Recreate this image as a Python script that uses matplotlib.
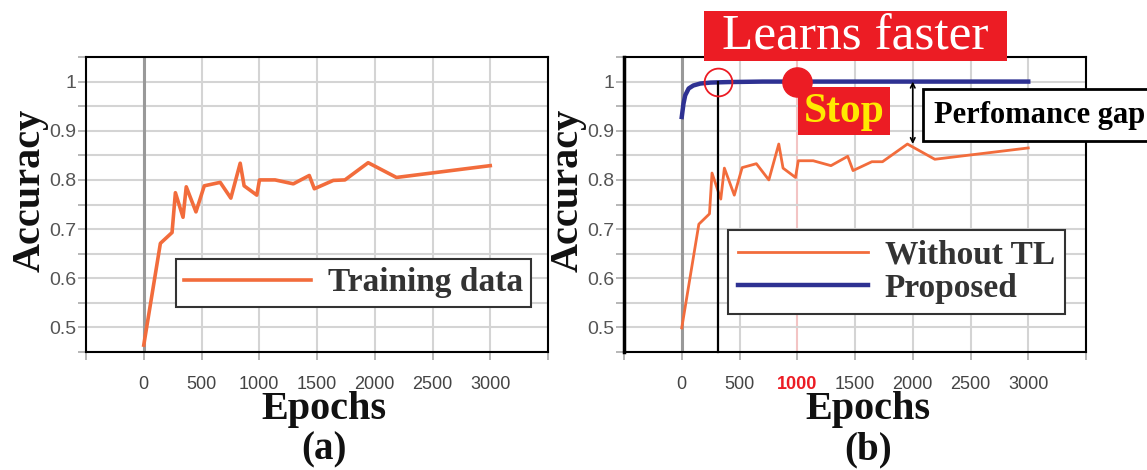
import numpy as np
import matplotlib
matplotlib.use("Agg")
import matplotlib.pyplot as plt
from matplotlib.patches import Rectangle

# values
epochs_a = [0, 144, 245, 274, 340, 368, 452, 524, 662, 754, 835, 869, 979, 1002,
            1137, 1295, 1433, 1477, 1641, 1742, 1943, 2188, 3000]
acc_train = [0.464, 0.671, 0.693, 0.774, 0.724, 0.786, 0.735, 0.788, 0.795, 0.763,
             0.834, 0.788, 0.769, 0.800, 0.800, 0.792, 0.809, 0.782, 0.799, 0.800,
             0.835, 0.805, 0.829]

epochs_b = [0, 148, 240, 262, 338, 369, 455, 523, 646, 754, 840, 877, 985, 1009,
            1138, 1292, 1437, 1483, 1646, 1738, 1954, 2191, 3000]
acc_without_tl = [0.499, 0.710, 0.731, 0.814, 0.761, 0.824, 0.769, 0.825, 0.833, 0.800,
                  0.873, 0.824, 0.805, 0.839, 0.839, 0.829, 0.848, 0.819, 0.837, 0.837,
                  0.873, 0.842, 0.865]

epochs_prop = [0, 15, 30, 60, 100, 160, 250, 400, 700, 1000, 3000]
acc_proposed = [0.928, 0.955, 0.972, 0.986, 0.992, 0.996, 0.998, 0.999, 1.0, 1.0, 1.0]

x_ticks = [-500, 0, 500, 1000, 1500, 2000, 2500, 3000, 3500]
x_labels = ["", "0", "500", "1000", "1500", "2000", "2500", "3000", ""]
y_ticks = [0.45, 0.5, 0.55, 0.6, 0.65, 0.7, 0.75, 0.8, 0.85, 0.9, 0.95, 1.0, 1.05]
y_labels = ["", "0.5", "", "0.6", "", "0.7", "", "0.8", "", "0.9", "", "1", ""]

stop_epoch = 1000
fast_epoch = 310
gap_epoch = 2000
gap_low = 0.873

ORANGE = "#F26C3C"
NAVY = "#2E3192"
RED = "#EC1C24"
W, H = 1147, 470

serif = "Liberation Serif"
sans = "Liberation Sans"


def fx(x):
    return x / W


def fy(y):
    return 1 - y / H


def style(ax):
    ax.set_xlim(-500, 3500)
    ax.set_ylim(0.45, 1.05)
    ax.set_xticks(x_ticks)
    ax.set_xticklabels(x_labels, fontfamily=sans, fontsize=13, color="#444")
    ax.set_yticks(y_ticks)
    ax.set_yticklabels(y_labels, fontfamily=sans, fontsize=14, color="#555")
    ax.tick_params(axis="both", length=6, width=1.2, color="#aaa")
    ax.tick_params(axis="x", pad=11)
    ax.tick_params(axis="y", pad=1)
    ax.grid(True, color="#d4d4d4", lw=1.5, zorder=0)
    ax.axvline(0, color="#999", lw=2.2, zorder=1)
    for s in ax.spines.values():
        s.set_color("black")
        s.set_linewidth(1.5)
    ax.set_axisbelow(True)


fig = plt.figure(figsize=(W / 100, H / 100), dpi=100)
ax_a = fig.add_axes([fx(86), fy(352), 462 / W, 295 / H])
ax_b = fig.add_axes([fx(624), fy(352), 462 / W, 295 / H])
style(ax_a)
style(ax_b)
ax_b.spines["left"].set_linewidth(2.5)
ax_b.get_xticklabels()[3].set_color(RED)
ax_b.get_xticklabels()[3].set_fontweight("bold")
ax_b.get_xgridlines()[3].set_color("#f3c4c4")

# (a)
ax_a.plot(epochs_a, acc_train, color=ORANGE, lw=2.6, label="Training data", zorder=3)
leg = ax_a.legend(loc="upper left", bbox_to_anchor=(fx(176), fy(259)),
                  bbox_transform=fig.transFigure, borderaxespad=0,
                  prop=dict(family=serif, weight="bold", size=24), labelcolor="#333",
                  handlelength=3.8, fancybox=False, framealpha=1,
                  borderpad=0.25, handletextpad=0.5)
leg.get_frame().set_edgecolor("#333")
leg.get_frame().set_linewidth(1.5)

# (b)
ax_b.plot(epochs_b, acc_without_tl, color=ORANGE, lw=2.0, label="Without TL", zorder=3)
ax_b.plot(epochs_prop, acc_proposed, color=NAVY, lw=3.2, label="Proposed", zorder=3)
ax_b.plot([fast_epoch, fast_epoch], [1.0, 0.45], color="black", lw=1.6, zorder=4, clip_on=False)
ax_b.plot([fast_epoch], [1.0], marker="o", ms=20, mfc="none", mec=RED, mew=1.3, zorder=5)
ax_b.plot([stop_epoch], [1.0], marker="o", ms=21, color=RED, zorder=5, clip_on=False)
ax_b.annotate("", xy=(gap_epoch, gap_low), xytext=(gap_epoch, 1.0),
              arrowprops=dict(arrowstyle="<->", color="black", lw=1.2,
                              shrinkA=0, shrinkB=0, mutation_scale=8))
leg = ax_b.legend(loc="upper left", bbox_to_anchor=(fx(728), fy(230)),
                  bbox_transform=fig.transFigure, borderaxespad=0,
                  prop=dict(family=serif, weight="bold", size=24), labelcolor="#333",
                  handlelength=3.9, fancybox=False, framealpha=1,
                  borderpad=0.3, handletextpad=0.5, labelspacing=0.05)
leg.get_frame().set_edgecolor("#333")
leg.get_frame().set_linewidth(1.5)

# boxes with text
fig.add_artist(Rectangle((fx(704), fy(61)), 303 / W, 50 / H, transform=fig.transFigure,
                         color=RED, lw=0))
fig.text(fx(855), fy(50), "Learns faster", color="white", fontfamily=serif,
         fontsize=37, ha="center", va="baseline")
fig.add_artist(Rectangle((fx(798), fy(135)), 92 / W, 48 / H, transform=fig.transFigure,
                         color=RED, lw=0))
fig.text(fx(844), fy(122), "Stop", color="#FFEA00", fontfamily=serif, fontweight="bold",
         fontsize=30, ha="center", va="baseline")
fig.add_artist(Rectangle((fx(923), fy(141)), 240 / W, 52 / H, transform=fig.transFigure,
                         facecolor="white", edgecolor="black", lw=2, clip_on=False))
fig.text(fx(934), fy(123), "Perfomance gap", color="black", fontfamily=serif,
         fontweight="bold", fontsize=22, ha="left", va="baseline")

# axis titles and panel letters
for cx, ax_x, letter in [(30, 324, "(a)"), (568, 868, "(b)")]:
    fig.text(fx(cx), fy(190), "Accuracy", rotation=90, fontfamily=serif, fontweight="bold",
             fontsize=29, ha="center", va="center", color="#111")
    fig.text(fx(ax_x), fy(410), "Epochs", fontfamily=serif, fontweight="bold",
             fontsize=29, ha="center", va="center", color="#111")
    fig.text(fx(ax_x), fy(450), letter, fontfamily=serif, fontweight="bold",
             fontsize=28, ha="center", va="center", color="#111")

fig.savefig("out.png", dpi=100)
